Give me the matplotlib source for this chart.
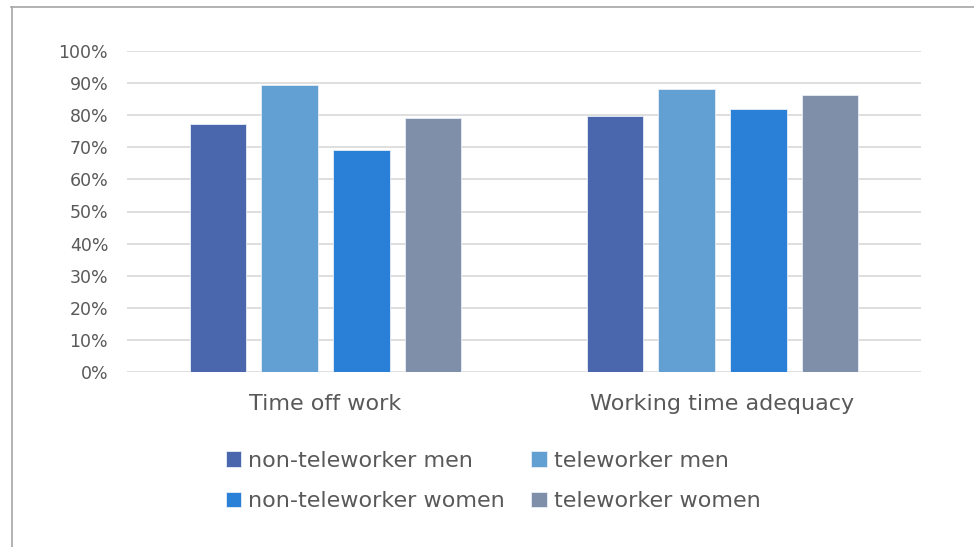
import matplotlib.pyplot as plt
import numpy as np

plt.rcParams['font.family'] = ['DejaVu Sans']

categories = ['Time off work', 'Working time adequacy']
series = ['non-teleworker men', 'teleworker men', 'non-teleworker women', 'teleworker women']
values = [
    [77.3, 79.7],   # non-teleworker men
    [89.5, 88.2],   # teleworker men
    [69.2, 81.8],   # non-teleworker women
    [79.0, 86.4],   # teleworker women
]
colors = ['#4A66AC', '#629FD3', '#2A7FD7', '#7F8EA9']
yticks = [0, 10, 20, 30, 40, 50, 60, 70, 80, 90, 100]

fig = plt.figure(figsize=(9.74, 5.47), dpi=100)
# outer frame (left and top lines)
fig.add_artist(plt.Line2D([11.5/974, 11.5/974], [0, 1 - 7/547], color='#a6a6a6', lw=1.2))
fig.add_artist(plt.Line2D([11/974, 1], [1 - 7/547, 1 - 7/547], color='#a6a6a6', lw=1.2))

ax = fig.add_axes([127/974, 1 - 372/547, (921 - 127)/974, (372 - 51)/547])

x = np.arange(len(categories))
w = 0.142
step = 0.181
bars = []
for i, (s, v, c) in enumerate(zip(series, values, colors)):
    b = ax.bar(x + (i - 1.5) * step, v, width=w, color=c, edgecolor='#e8eef8',
               linewidth=0.6, label=s, zorder=3)
    bars.append(b)

ax.set_xlim(-0.5, 1.5)
ax.set_ylim(0, 100)
ax.set_yticks(yticks)
ax.set_yticklabels([f'{t}%' for t in yticks], color='#595959', fontsize=12.5)
ax.set_xticks(x)
ax.set_xticklabels(categories, color='#595959', fontsize=16)
ax.tick_params(axis='both', length=0)
ax.tick_params(axis='y', pad=13.5)
ax.tick_params(axis='x', pad=16)
ax.grid(axis='y', color='#d9d9d9', lw=1.2, zorder=0)
for sp in ax.spines.values():
    sp.set_visible(False)

# legend filled row by row
order = [0, 2, 1, 3]
leg = fig.legend([bars[i] for i in order], [series[i] for i in order],
                 loc='center', bbox_to_anchor=(493/974, 1 - 481/547), ncol=2,
                 frameon=False, fontsize=16, handlelength=0.7, handleheight=0.7,
                 handletextpad=0.3, columnspacing=1.2, labelspacing=0.92)
for t in leg.get_texts():
    t.set_color('#595959')

fig.savefig('out.png', dpi=100)
